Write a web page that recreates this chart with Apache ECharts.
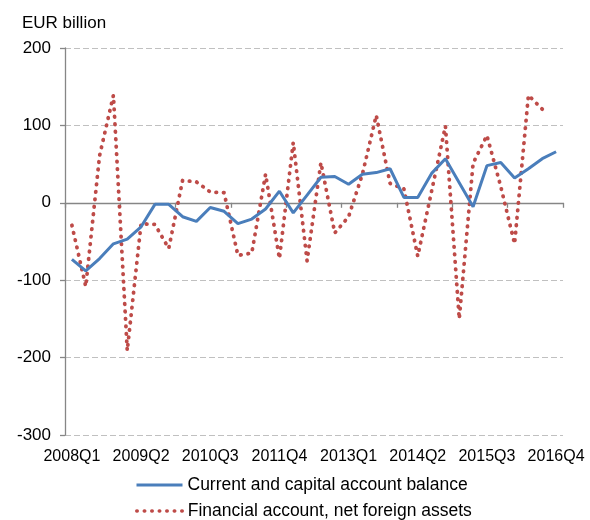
<!DOCTYPE html>
<html>
<head>
<meta charset="utf-8">
<script src="https://cdn.jsdelivr.net/npm/echarts@6/dist/echarts.min.js"></script>
<style>
html,body{margin:0;padding:0;background:#fff;}
#chart{width:590px;height:520px;}
</style>
</head>
<body>
<div id="chart"></div>
<script>
// Quarters 2008Q1 .. 2016Q4
var categories = [];
for (var yr = 2008; yr <= 2016; yr++) {
  for (var q = 1; q <= 4; q++) categories.push(yr + 'Q' + q);
}

var currentCapital = [
  -73, -88, -72, -53, -47, -31, -2, -2, -18, -24, -6, -11,
  -27, -21, -8, 15, -13, 10, 33, 34, 24, 37, 39, 44,
  7, 7, 38, 57, 26, -5, 48, 52, 32, 44, 57, 66
];

var financialAccount = [
  -29, -108, 61, 139, -191, -27, -28, -59, 29, 27, 14, 13,
  -68, -65, 37, -72, 78, -75, 52, -39, -18, 37, 113, 25,
  18, -69, 15, 99, -150, 51, 87, 21, -53, 139, 121, null
];

var yTicks = { min: -300, max: 200, interval: 100 };

var seriesNames = ['Current and capital account balance', 'Financial account, net foreign assets'];

var font = '"Liberation Sans", Arial, sans-serif';
var chart = echarts.init(document.getElementById('chart'), null, { renderer: 'canvas' });

function legendFor(name, top, lineWidth) {
  return {
    orient: 'horizontal',
    left: 135,
    top: top,
    padding: 0,
    itemWidth: 46,
    itemHeight: 14,
    itemGap: 4,
    itemStyle: { opacity: 0 },
    lineStyle: { width: lineWidth },
    textStyle: { fontFamily: font, fontSize: 17.5, color: '#000' },
    data: [name]
  };
}

chart.setOption({
  animation: false,
  backgroundColor: '#ffffff',
  title: {
    text: 'EUR billion',
    left: 17,
    top: 10,
    textStyle: { fontFamily: font, fontSize: 17, fontWeight: 'normal', color: '#000' }
  },
  legend: [legendFor(seriesNames[0], 476, 3), legendFor(seriesNames[1], 502, 3.5)],
  grid: { left: 65, right: 27, top: 48, bottom: 85, containLabel: false },
  xAxis: [
    {
      type: 'category',
      data: categories,
      boundaryGap: true,
      position: 'bottom',
      axisLine: { onZero: true, lineStyle: { color: '#868686', width: 1.3 } },
      axisTick: { show: true, interval: 3, length: 5, lineStyle: { color: '#868686', width: 1.3 } },
      axisLabel: { show: false },
      splitLine: { show: false }
    },
    {
      type: 'category',
      data: categories,
      boundaryGap: true,
      position: 'bottom',
      axisLine: { show: false, onZero: false },
      axisTick: { show: false },
      axisLabel: {
        show: true,
        interval: 4,
        margin: 14,
        fontFamily: font,
        fontSize: 16,
        color: '#000'
      },
      splitLine: { show: false }
    }
  ],
  yAxis: {
    type: 'value',
    min: yTicks.min,
    max: yTicks.max,
    interval: yTicks.interval,
    axisLine: { show: true, lineStyle: { color: '#868686', width: 1.3 } },
    axisTick: { show: true, length: 5, lineStyle: { color: '#868686', width: 1.3 } },
    axisLabel: { margin: 14, fontFamily: font, fontSize: 17, color: '#000' },
    splitLine: { show: true, lineStyle: { color: '#c0c0c0', width: 1, type: [6, 3] } }
  },
  series: [
    {
      name: seriesNames[0],
      type: 'line',
      xAxisIndex: 0,
      data: currentCapital,
      symbol: 'none',
      lineStyle: { color: '#4a7ebb', width: 3 },
      itemStyle: { color: '#4a7ebb' },
      z: 3
    },
    {
      name: seriesNames[1],
      type: 'line',
      xAxisIndex: 0,
      data: financialAccount,
      symbol: 'none',
      connectNulls: false,
      lineStyle: { color: '#be4b48', width: 3.8, type: [0.5, 7], cap: 'round' },
      itemStyle: { color: '#be4b48' },
      z: 2
    }
  ]
});
</script>
</body>
</html>
